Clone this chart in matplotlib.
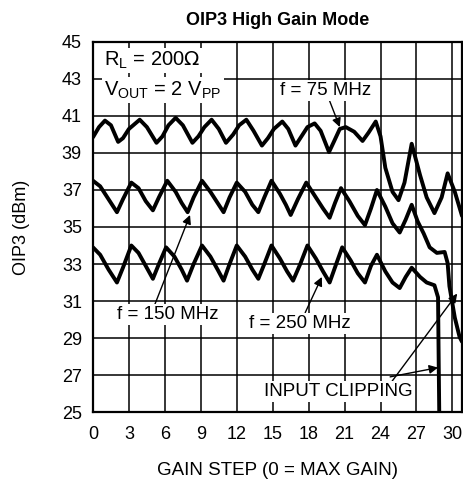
import matplotlib.pyplot as plt

plt.rcParams['font.family'] = ['Liberation Sans', 'DejaVu Sans']

# Gain step / OIP3 points
step_75 = [0.0, 0.5, 1.0, 1.5, 2.1, 2.5, 3.0, 3.9, 4.5, 5.3, 5.8, 6.3, 6.9, 7.5, 8.3, 8.8,
           9.3, 9.9, 10.5, 11.1, 11.7, 12.2, 12.8, 13.4, 14.1, 14.6, 15.1, 15.8, 16.3, 16.9,
           17.4, 17.9, 18.5, 19.0, 19.7, 20.1, 20.6, 21.1, 21.8, 22.5, 23.0, 23.6, 24.0,
           24.4, 25.0, 25.5, 26.0, 26.6, 27.3, 27.85, 28.5, 29.1, 29.6, 30.2, 30.8]
oip3_75 = [39.85, 40.4, 40.75, 40.5, 39.6, 39.8, 40.3, 40.8, 40.4, 39.55, 39.9, 40.5, 40.9,
           40.5, 39.55, 39.9, 40.4, 40.8, 40.3, 39.55, 40.0, 40.5, 40.8, 40.2, 39.4, 39.8,
           40.3, 40.7, 40.3, 39.4, 39.9, 40.4, 40.6, 40.2, 39.05, 39.6, 40.3, 40.4, 40.15,
           39.65, 40.1, 40.7, 39.9, 38.2, 36.9, 36.45, 37.4, 39.5, 37.8, 36.6, 35.75, 36.6,
           37.9, 36.9, 35.6]

step_150 = [0.0, 0.6, 1.3, 2.0, 2.5, 3.2, 3.8, 4.4, 5.0, 5.5, 6.2, 6.9, 7.4, 7.9, 8.4, 9.1,
            9.8, 10.4, 10.9, 11.4, 12.0, 12.7, 13.3, 13.8, 14.3, 14.9, 15.6, 16.1, 16.5, 17.1,
            17.8, 18.5, 19.2, 19.75, 20.2, 20.7, 21.4, 22.1, 22.7, 23.2, 23.7, 24.4, 25.0,
            25.6, 26.1, 26.6, 27.1, 27.6, 28.1, 28.7, 29.35, 29.6, 29.75, 30.2, 30.6, 30.8]
oip3_150 = [37.5, 37.2, 36.5, 35.8, 36.5, 37.4, 37.1, 36.4, 35.9, 36.6, 37.5, 36.9, 36.3,
            35.8, 36.6, 37.5, 36.9, 36.3, 35.8, 36.6, 37.4, 36.9, 36.2, 35.8, 36.6, 37.5,
            36.8, 36.2, 35.65, 36.5, 37.4, 36.7, 36.0, 35.5, 36.3, 37.1, 36.4, 35.6, 35.1,
            36.0, 37.0, 36.1, 35.2, 34.7, 35.4, 36.2, 35.3, 34.65, 33.9, 33.6, 33.65, 33.05,
            31.8, 30.1, 29.05, 28.8]

step_250 = [0.0, 0.6, 1.3, 2.0, 2.5, 3.2, 3.8, 4.4, 5.0, 5.5, 6.1, 6.8, 7.4, 7.85, 8.4, 9.1,
            9.8, 10.4, 10.9, 11.4, 12.0, 12.7, 13.3, 13.8, 14.3, 14.9, 15.6, 16.2, 16.7, 17.3,
            17.9, 18.6, 19.2, 19.75, 20.3, 20.8, 21.5, 22.1, 22.7, 23.2, 23.7, 24.4, 25.0,
            25.6, 26.1, 26.6, 27.3, 27.85, 28.5, 28.8, 28.85, 28.9, 28.95]
oip3_250 = [33.9, 33.5, 32.7, 32.0, 32.8, 34.0, 33.6, 32.9, 32.2, 33.0, 33.9, 33.4, 32.7,
            32.1, 33.0, 34.0, 33.4, 32.7, 32.1, 33.0, 34.0, 33.4, 32.7, 32.2, 33.0, 34.0,
            33.3, 32.6, 32.1, 33.0, 34.0, 33.3, 32.6, 32.0, 33.0, 33.9, 33.2, 32.5, 32.0,
            32.9, 33.5, 32.6, 32.0, 31.7, 32.3, 32.8, 32.3, 32.0, 31.85, 31.2, 28.0, 25.0, 24.0]

x_ticks = list(range(0, 31, 3))
y_ticks = list(range(25, 46, 2))

fig = plt.figure(figsize=(4.64, 4.82), dpi=100)
ax = fig.add_axes([0.2004, 0.1452, 0.7953, 0.7677])

for xs, ys in [(step_75, oip3_75), (step_150, oip3_150), (step_250, oip3_250)]:
    ax.plot(xs, ys, color='black', lw=2.8, solid_joinstyle='round', solid_capstyle='round',
            zorder=3)

ax.set_xlim(0, 30.8)
ax.set_ylim(25, 45)
ax.set_xticks(x_ticks)
ax.set_yticks(y_ticks)
ax.grid(True, color='black', lw=1.1)
ax.set_axisbelow(True)
ax.tick_params(length=0, labelsize=13, pad=8)
ax.tick_params(axis='x', pad=10)
for s in ax.spines.values():
    s.set_linewidth(1.6)

ax.set_title('OIP3 High Gain Mode', fontsize=13, fontweight='bold', pad=12)
ax.set_xlabel('GAIN STEP (0 = MAX GAIN)', fontsize=13.5, labelpad=14)
ax.set_ylabel('OIP3 (dBm)', fontsize=13, labelpad=23)

box = dict(facecolor='white', edgecolor='none', pad=1.5)
arrow = dict(arrowstyle='-|>', color='black', lw=1.0, mutation_scale=13, shrinkA=0, shrinkB=0)

ax.text(0.95, 44.0, r'R$_\mathregular{L}$ = 200$\Omega$', fontsize=14.5, va='center', ha='left',
        bbox=box, zorder=4)
ax.text(0.95, 42.4, r'V$_\mathregular{OUT}$ = 2 V$_\mathregular{PP}$', fontsize=14.5,
        va='center', ha='left', bbox=box, zorder=4)

ax.annotate('f = 75 MHz', xy=(20.6, 40.4), xytext=(19.4, 42.4), fontsize=13.5, ha='center',
            va='center', bbox=box, arrowprops=arrow, zorder=4)
ax.annotate('f = 150 MHz', xy=(8.1, 35.65), xytext=(6.2, 30.25), fontsize=13.5, ha='center',
            va='center', bbox=box, zorder=4,
            arrowprops=dict(arrow, relpos=(0.37, 1.0)))
ax.annotate('f = 250 MHz', xy=(19.1, 32.3), xytext=(17.3, 29.8), fontsize=13.5, ha='center',
            va='center', bbox=box, arrowprops=arrow, zorder=4)
ax.annotate('INPUT CLIPPING', xy=(30.4, 31.4), xytext=(20.5, 26.1), fontsize=13.5,
            ha='center', va='center', bbox=box, zorder=4,
            arrowprops=dict(arrow, relpos=(0.85, 1.0)))
ax.annotate('', xy=(28.8, 27.4), xytext=(24.8, 26.9), arrowprops=arrow, zorder=4)

fig.savefig('out.png', dpi=100)
